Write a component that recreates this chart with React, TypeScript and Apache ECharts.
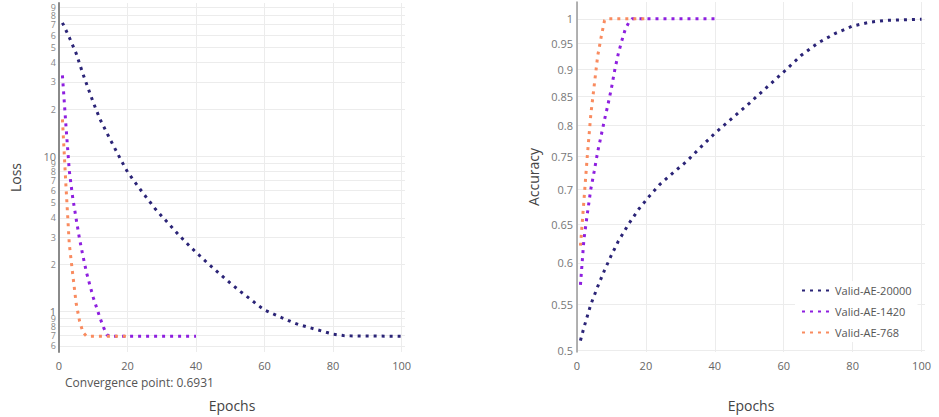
import React, { useEffect, useRef } from 'react';
import * as echarts from 'echarts';

const seriesNames = ['Valid-AE-20000', 'Valid-AE-1420', 'Valid-AE-768'];
const seriesColors = ['#2b2477', '#8e1fdf', '#f98b5f'];

const lossEpochs20000 = [1, 3, 5, 7, 10, 12, 15, 18, 20, 23, 25, 28, 30, 33, 35, 38, 40, 43, 45, 48, 50, 53, 55, 58, 60, 63, 65, 68, 70, 73, 75, 78, 80, 83, 85, 88, 90, 95, 100];
const lossValues20000 = [72, 58, 45.8, 33.7, 22.1, 17.2, 12.7, 9.5, 7.9, 6.4, 5.6, 4.6, 4.1, 3.47, 3.1, 2.65, 2.4, 2.08, 1.9, 1.66, 1.52, 1.34, 1.24, 1.1, 1.02, 0.955, 0.913, 0.854, 0.822, 0.788, 0.766, 0.734, 0.714, 0.699, 0.696, 0.695, 0.694, 0.6932, 0.6931];
const lossEpochs1420 = [1, 2, 3, 4, 5, 6, 7, 8, 9, 10, 11, 12, 13, 14, 15, 40];
const lossValues1420 = [33, 16, 8.05, 5.4, 3.95, 2.92, 2.27, 1.79, 1.48, 1.23, 1.055, 0.904, 0.79, 0.705, 0.6931, 0.6931];
const lossEpochs768 = [1, 2, 3, 4, 5, 6, 7, 8, 20];
const lossValues768 = [17.2, 6.6, 2.72, 1.74, 1.13, 0.867, 0.733, 0.6931, 0.6931];

const accEpochs20000 = [1, 2, 4, 6, 8, 10, 12, 15, 18, 21, 24, 28, 32, 36, 40, 45, 50, 55, 60, 65, 70, 75, 80, 85, 90, 95, 100];
const accValues20000 = [0.51, 0.524, 0.55, 0.571, 0.591, 0.61, 0.628, 0.651, 0.672, 0.69, 0.707, 0.725, 0.743, 0.765, 0.787, 0.812, 0.838, 0.866, 0.895, 0.926, 0.951, 0.97, 0.985, 0.993, 0.997, 0.998, 0.999];
const accEpochs1420 = [1, 2, 3, 4, 5, 6, 7, 8, 9, 10, 11, 12, 13, 14, 15, 16, 40];
const accValues1420 = [0.573, 0.63, 0.665, 0.7, 0.727, 0.757, 0.783, 0.81, 0.836, 0.865, 0.9, 0.93, 0.955, 0.978, 0.992, 1.0, 1.0];
const accEpochs768 = [1, 2, 3, 4, 5, 6, 7, 8, 9, 20];
const accValues768 = [0.622, 0.683, 0.751, 0.818, 0.87, 0.925, 0.962, 0.997, 1.0, 1.0];

const xTicks = [0, 20, 40, 60, 80, 100];
const lossTicks = [0.6, 0.7, 0.8, 0.9, 1, 2, 3, 4, 5, 6, 7, 8, 9, 10, 20, 30, 40, 50, 60, 70, 80, 90];
const accTicks = [0.5, 0.55, 0.6, 0.65, 0.7, 0.75, 0.8, 0.85, 0.9, 0.95, 1];
const convergenceText = 'Convergence point: 0.6931';

const FONT = "'Open Sans', 'Liberation Sans', sans-serif";

function zip(xs: number[], ys: number[]) {
  return xs.map((x, i) => [x, ys[i]]);
}

export default function App() {
  const ref = useRef<HTMLDivElement>(null);

  useEffect(() => {
    if (!ref.current) return;
    const chart = echarts.init(ref.current, undefined, { renderer: 'svg' });

    const lossMin = 0.548;
    const lossMax = 96.5;
    const accMin = 0.498;
    const accMax = 1.0358;

    const lossData = [
      zip(lossEpochs20000, lossValues20000),
      zip(lossEpochs1420, lossValues1420),
      zip(lossEpochs768, lossValues768),
    ];
    const accData = [
      zip(accEpochs20000, accValues20000),
      zip(accEpochs1420, accValues1420),
      zip(accEpochs768, accValues768),
    ];

    // log-space positions of the loss ticks, plus an unlabeled end marker
    const lossEndMarker = Math.log10(lossMax) - 1e-6;
    const lossTickPos = [...lossTicks.map((v) => Math.log10(v)), lossEndMarker];

    const makeSeries = (data: number[][], i: number, gridIdx: number) => ({
      name: seriesNames[i],
      type: 'line',
      xAxisIndex: gridIdx,
      yAxisIndex: gridIdx * 2,
      data,
      symbol: 'none',
      showSymbol: false,
      silent: true,
      z: 2 + i,
      itemStyle: { color: seriesColors[i] },
      lineStyle: { color: seriesColors[i], width: 3, type: [3, 5], cap: 'butt' },
    });

    const xAxisBase = (gridIndex: number) => ({
      type: 'value',
      gridIndex,
      min: 0,
      max: 101,
      name: 'Epochs',
      nameLocation: 'middle',
      nameGap: 46,
      nameTextStyle: { fontSize: 14, color: '#444', fontFamily: FONT },
      axisLine: { show: false },
      axisTick: { show: false, customValues: xTicks },
      axisLabel: { customValues: xTicks, color: '#666', fontSize: 11, margin: 8, fontFamily: FONT },
      splitLine: { show: true, lineStyle: { color: '#ececec', width: 1 } },
    });

    const option: any = {
      animation: false,
      backgroundColor: '#ffffff',
      textStyle: { fontFamily: FONT },
      grid: [
        { left: 59, top: 3, width: 346, height: 352 },
        { left: 577, top: 2, width: 348, height: 354 },
      ],
      xAxis: [xAxisBase(0), xAxisBase(1)],
      yAxis: [
        { type: 'log', gridIndex: 0, min: lossMin, max: lossMax, position: 'right', show: false },
        {
          type: 'value',
          gridIndex: 0,
          position: 'left',
          min: Math.log10(lossMin),
          max: Math.log10(lossMax),
          name: 'Loss',
          nameLocation: 'middle',
          nameGap: 37,
          nameTextStyle: { fontSize: 14, color: '#444', fontFamily: FONT },
          axisLine: { show: true, lineStyle: { color: '#8a8a8a', width: 2 } },
          axisTick: { show: false, customValues: lossTickPos },
          axisLabel: {
            customValues: lossTickPos,
            margin: 3,
            showMinLabel: true,
            showMaxLabel: false,
            formatter: (v: number) => {
              if (Math.abs(v - lossEndMarker) < 1e-9) return '';
              const r = Number(Math.pow(10, v).toPrecision(2));
              if (r === 1 || r === 10) return `{maj|${r}}`;
              const d = String(r).replace(/[^1-9]/g, '')[0];
              return `{mn|${d}}`;
            },
            rich: {
              maj: { fontSize: 11, lineHeight: 7, color: '#777', fontFamily: FONT },
              mn: { fontSize: 9, lineHeight: 6, color: '#888', fontFamily: FONT },
            },
          },
          splitLine: { show: true, showMaxLine: false, lineStyle: { color: '#ececec', width: 1 } },
        },
        { type: 'log', gridIndex: 1, min: accMin, max: accMax, position: 'right', show: false },
        {
          type: 'value',
          gridIndex: 1,
          position: 'left',
          min: Math.log10(accMin),
          max: Math.log10(accMax),
          name: 'Accuracy',
          nameLocation: 'middle',
          nameGap: 37,
          nameTextStyle: { fontSize: 14, color: '#444', fontFamily: FONT },
          axisLine: { show: true, lineStyle: { color: '#9a9a9a', width: 1.5 } },
          axisTick: { show: false, customValues: accTicks.map((v) => Math.log10(v)) },
          axisLabel: {
            customValues: accTicks.map((v) => Math.log10(v)),
            margin: 4,
            color: '#777',
            fontSize: 11,
            fontFamily: FONT,
            formatter: (v: number) => String(Number(Math.pow(10, v).toFixed(2))),
          },
          splitLine: { show: true, lineStyle: { color: '#ececec', width: 1 } },
        },
      ],
      legend: {
        orient: 'vertical',
        left: 795,
        top: 281,
        backgroundColor: '#ffffff',
        padding: [4, 6],
        itemWidth: 28,
        itemHeight: 10,
        itemGap: 10,
        itemStyle: { opacity: 0 },
        textStyle: { color: '#555', fontSize: 11, fontFamily: FONT },
        data: seriesNames,
      },
      graphic: [
        {
          type: 'text',
          left: 65,
          top: 376,
          style: { text: convergenceText, fill: '#555', font: `12px ${FONT}` },
        },
      ],
      series: [
        ...lossData.map((d, i) => makeSeries(d, i, 0)),
        ...accData.map((d, i) => makeSeries(d, i, 1)),
      ],
    };

    chart.setOption(option);
    return () => chart.dispose();
  }, []);

  return (
    <div
      ref={ref}
      style={{ position: 'fixed', left: 0, top: 0, width: 939, height: 417, background: '#fff' }}
    />
  );
}
